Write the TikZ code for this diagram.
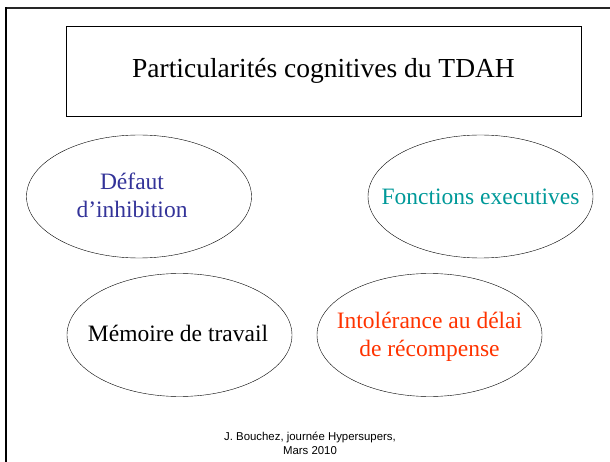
\documentclass[tikz,border=0pt]{standalone}
\usepackage{fontspec}
\setmainfont{Liberation Serif}
\setsansfont{Liberation Sans}
\usepackage{xcolor}
\usetikzlibrary{shapes.geometric}

\definecolor{bleuinhib}{HTML}{333399}
\definecolor{turquoise}{HTML}{009999}
\definecolor{rougedelai}{HTML}{FF3300}

\tikzset{
  oval/.style={draw, thin, ellipse, minimum width=225pt, minimum height=123pt, inner sep=0pt},
  bulle/.style={align=center, inner sep=0pt, font=\fontsize{23.5}{28}\selectfont},
}

\begin{document}
\begin{tikzpicture}[x=1pt,y=-1pt]
\useasboundingbox (0,0) rectangle (610,462);

%frame
\draw[line width=1.8pt,black!85] (5,8) -- (610,8);
\draw[line width=1.8pt] (6,7.1) -- (6,462);

%title
\node[draw, thin, minimum width=515pt, minimum height=90pt, inner sep=0pt,
  font=\fontsize{27.5}{32}\selectfont] (titre) at (323.5,71) {Particularités cognitives du TDAH};

%ellipses
\node[oval] (defaut) at (139,196.5) {};
\node[bulle, text=bleuinhib] (defautTxt) at (132,195) {Défaut\\d’inhibition};

\node[oval] (fonctions) at (480.5,196.5) {};
\node[bulle, text=turquoise] (fonctionsTxt) at (fonctions.center) {Fonctions executives};

\node[oval] (memoire) at (179.5,335) {};
\node[bulle] (memoireTxt) at (178,333) {Mémoire de travail};

\node[oval] (delai) at (429.5,335) {};
\node[bulle, text=rougedelai] (delaiTxt) at (429.5,337) {Intolérance au délai\\de récompense};

%footer
\node[align=center, inner sep=0pt, font=\sffamily\fontsize{11.4}{13.5}\selectfont] (pied) at (310,443.5)
  {J. Bouchez, journée Hypersupers,\\Mars 2010};
\end{tikzpicture}
\end{document}
